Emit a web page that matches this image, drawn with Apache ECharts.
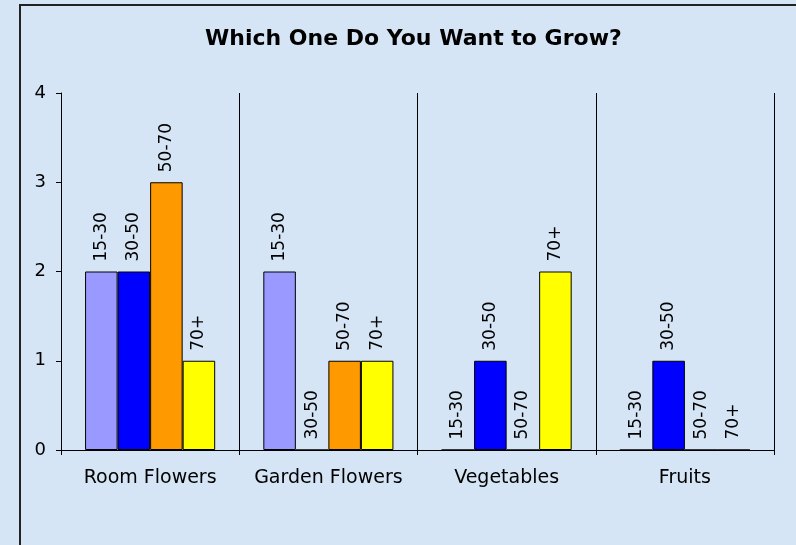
<!DOCTYPE html>
<html>
<head>
<meta charset="utf-8">
<script src="https://cdn.jsdelivr.net/npm/echarts@6/dist/echarts.min.js"></script>
<style>
html,body{margin:0;padding:0;background:#d5e5f5;}
#chart{width:796px;height:545px;}
</style>
</head>
<body>
<div id="chart"></div>
<script>
const categories = ['Room Flowers', 'Garden Flowers', 'Vegetables', 'Fruits'];
const seriesNames = ['15-30', '30-50', '50-70', '70+'];
const age15_30 = [2, 2, 0, 0];
const age30_50 = [2, 0, 1, 1];
const age50_70 = [3, 1, 0, 0];
const age70plus = [1, 1, 2, 0];
const yTicks = [0, 1, 2, 3, 4];
const colors = ['#9999ff', '#0000ff', '#ff9900', '#ffff00'];

const values = [age15_30, age30_50, age50_70, age70plus];
const font = 'DejaVu Sans, Verdana, sans-serif';

const chart = echarts.init(document.getElementById('chart'));
chart.setOption({
  backgroundColor: '#d5e5f5',
  animation: false,
  title: {
    text: 'Which One Do You Want to Grow?',
    left: 200, top: 23,
    textStyle: { fontFamily: font, fontSize: 22, fontWeight: 'bold', color: '#000' }
  },
  graphic: [{
    type: 'rect', shape: { x: 20, y: 5, width: 900, height: 700 },
    style: { fill: 'none', stroke: '#222', lineWidth: 2 }, silent: true
  }],
  grid: { left: 61, right: 22, top: 93, bottom: 95 },
  xAxis: {
    type: 'category', data: categories,
    axisLine: { lineStyle: { color: '#000', width: 1 } },
    axisTick: { show: true, interval: 0, length: 5, lineStyle: { color: '#000' } },
    splitLine: { show: true, interval: 0, lineStyle: { color: '#000', width: 1 } },
    axisLabel: { interval: 0, fontFamily: font, fontSize: 19, color: '#000', margin: 19 }
  },
  yAxis: {
    type: 'value', min: yTicks[0], max: yTicks[yTicks.length - 1], interval: 1,
    axisLine: { show: true, lineStyle: { color: '#000', width: 1 } },
    axisTick: { show: true, length: 5, lineStyle: { color: '#000' } },
    splitLine: { show: false },
    axisLabel: { fontFamily: font, fontSize: 18, color: '#000', margin: 15 }
  },
  series: seriesNames.map((name, i) => ({
    name: name, type: 'bar', data: values[i],
    barGap: '0%', barCategoryGap: '27%',
    itemStyle: { color: colors[i], borderColor: '#000', borderWidth: 1 },
    label: {
      show: true, formatter: '{a}', position: 'top', rotate: 90,
      align: 'left', verticalAlign: 'middle', distance: 10,
      fontFamily: font, fontSize: 17, color: '#000'
    }
  }))
});
</script>
</body>
</html>
